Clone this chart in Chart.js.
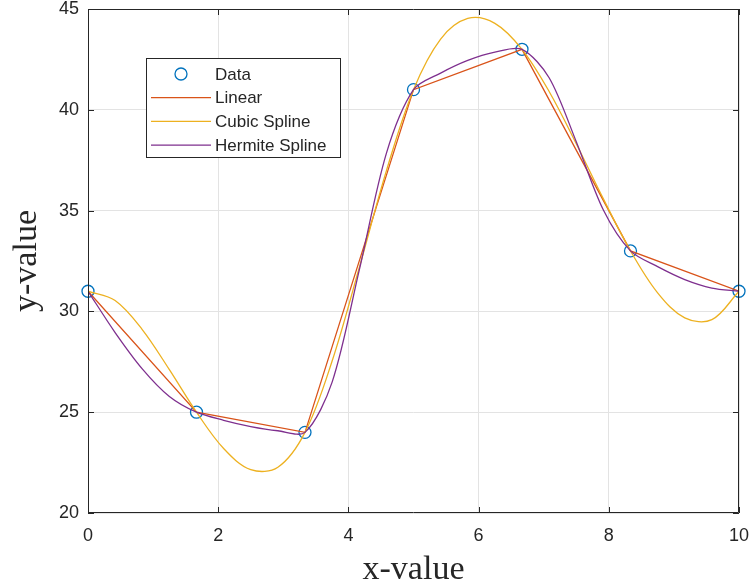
<!DOCTYPE html>
<html>
<head>
<meta charset="utf-8">
<script src="https://cdn.jsdelivr.net/npm/chart.js@4"></script>
<style>
  body { margin: 0; background: #fff; }
  #wrap { width: 753px; height: 587px; position: relative; }
</style>
</head>
<body>
<div id="wrap"><canvas id="chart"></canvas></div>
<script>
// sample points
const dataX = [0, 1.6667, 3.3333, 5, 6.6667, 8.3333, 10];
const dataY = [31, 25, 24, 41, 43, 33, 31];

// curves
const curveX = [0, 0.4167, 0.8333, 1.25, 1.6667, 2.0833, 2.5, 2.9167, 3.3333, 3.75, 4.1667, 4.5833,
    5, 5.4167, 5.8333, 6.25, 6.6667, 7.0833, 7.5, 7.9167, 8.3333, 8.75, 9.1667, 9.5833, 10];
const cubicY = [31, 30.54, 29.10, 27.11, 25, 23.20, 22.15, 22.27, 24, 27.54, 32.17, 36.97,
    41, 43.51, 44.53, 44.29, 43, 40.91, 38.32, 35.58, 33, 30.92, 29.68, 29.59, 31];
const hermiteY = [31, 28.95, 27.15, 25.78, 25, 24.60, 24.29, 24.08, 24, 26.49, 32.05, 37.84,
    41, 41.82, 42.45, 42.86, 43, 41.59, 38.42, 35.03, 33, 32.22, 31.58, 31.16, 31];

const xTicks = [0, 2, 4, 6, 8, 10];
const yTicks = [20, 25, 30, 35, 40, 45];
const seriesNames = ['Data', 'Linear', 'Cubic Spline', 'Hermite Spline'];

const axisColor = '#262626';
const toPoints = (xs, ys) => xs.map((x, i) => ({ x: x, y: ys[i] }));

// box, inward ticks and legend like the matlab figure
const framePlugin = {
    id: 'frame',
    afterDatasetsDraw(chart) {
        const { ctx, chartArea: a, scales } = chart;
        ctx.save();
        ctx.strokeStyle = axisColor;
        ctx.lineWidth = 1;
        ctx.beginPath();
        ctx.rect(a.left + 0.5, a.top + 0.5, a.right - a.left - 1, a.bottom - a.top - 1);
        ctx.stroke();

        const tl = 6;
        ctx.beginPath();
        xTicks.forEach(v => {
            const px = Math.round(scales.x.getPixelForValue(v)) + 0.5;
            ctx.moveTo(px, a.bottom); ctx.lineTo(px, a.bottom - tl);
            ctx.moveTo(px, a.top); ctx.lineTo(px, a.top + tl);
        });
        yTicks.forEach(v => {
            const py = Math.round(scales.y.getPixelForValue(v)) + 0.5;
            ctx.moveTo(a.left, py); ctx.lineTo(a.left + tl, py);
            ctx.moveTo(a.right, py); ctx.lineTo(a.right - tl, py);
        });
        ctx.stroke();

        // legend
        const bx = 146.5, by = 58.5, bw = 194, bh = 99;
        ctx.fillStyle = '#fff';
        ctx.fillRect(bx, by, bw, bh);
        ctx.strokeStyle = axisColor;
        ctx.strokeRect(bx, by, bw, bh);
        ctx.font = '17px "Liberation Sans", Arial, sans-serif';
        ctx.textBaseline = 'middle';
        ctx.textAlign = 'left';
        chart.data.datasets.forEach((ds, i) => {
            const ry = by + 15.5 + i * 23.7;
            ctx.strokeStyle = ds.borderColor;
            ctx.lineWidth = 1.3;
            ctx.beginPath();
            if (i === 0) {
                ctx.arc(181, ry, 6, 0, Math.PI * 2);
            } else {
                ctx.moveTo(151, ry); ctx.lineTo(211, ry);
            }
            ctx.stroke();
            ctx.fillStyle = axisColor;
            ctx.fillText(seriesNames[i], 215, ry + 1);
        });
        ctx.restore();
    }
};

new Chart(document.getElementById('chart'), {
    type: 'line',
    data: {
        datasets: [
            {
                label: seriesNames[0],
                data: toPoints(dataX, dataY),
                showLine: false,
                pointStyle: 'circle',
                pointRadius: 6,
                pointBackgroundColor: 'rgba(0,0,0,0)',
                borderColor: '#0072BD',
                pointBorderWidth: 1.3,
                clip: false,
                order: 4
            },
            {
                label: seriesNames[1],
                data: toPoints(dataX, dataY),
                borderColor: '#D95319',
                borderWidth: 1.3,
                pointRadius: 0,
                tension: 0,
                order: 3
            },
            {
                label: seriesNames[2],
                data: toPoints(curveX, cubicY),
                borderColor: '#EDB120',
                borderWidth: 1.3,
                pointRadius: 0,
                tension: 0.35,
                order: 2
            },
            {
                label: seriesNames[3],
                data: toPoints(curveX, hermiteY),
                borderColor: '#7E2F8E',
                borderWidth: 1.3,
                pointRadius: 0,
                tension: 0.3,
                order: 1
            }
        ]
    },
    options: {
        responsive: true,
        maintainAspectRatio: false,
        animation: false,
        layout: { padding: { top: 9, right: 14, left: 0, bottom: 0 } },
        plugins: {
            legend: { display: false },
            tooltip: { enabled: false }
        },
        scales: {
            x: {
                type: 'linear',
                min: 0,
                max: 10,
                afterBuildTicks: s => { s.ticks = xTicks.map(v => ({ value: v })); },
                afterFit: s => { s.height = 74; s.paddingLeft = 0; s.paddingRight = 0; },
                grid: { color: '#e3e3e3', drawTicks: false },
                border: { display: false },
                ticks: {
                    padding: 12,
                    color: axisColor,
                    font: { family: '"Liberation Sans", Arial, sans-serif', size: 18 }
                },
                title: {
                    display: true,
                    text: 'x-value',
                    color: axisColor,
                    padding: { top: 0, bottom: 0 },
                    font: { family: '"Liberation Serif", "Times New Roman", serif', size: 34, lineHeight: 1 }
                }
            },
            y: {
                type: 'linear',
                min: 20,
                max: 45,
                afterBuildTicks: s => { s.ticks = yTicks.map(v => ({ value: v })); },
                afterFit: s => { s.width = 88; s.paddingTop = 0; s.paddingBottom = 0; },
                grid: { color: '#e3e3e3', drawTicks: false },
                border: { display: false },
                ticks: {
                    padding: 9,
                    color: axisColor,
                    font: { family: '"Liberation Sans", Arial, sans-serif', size: 18 }
                },
                title: {
                    display: true,
                    text: 'y-value',
                    color: axisColor,
                    padding: { top: 10, bottom: 0 },
                    font: { family: '"Liberation Serif", "Times New Roman", serif', size: 34, lineHeight: 1 }
                }
            }
        }
    },
    plugins: [framePlugin]
});
</script>
</body>
</html>
